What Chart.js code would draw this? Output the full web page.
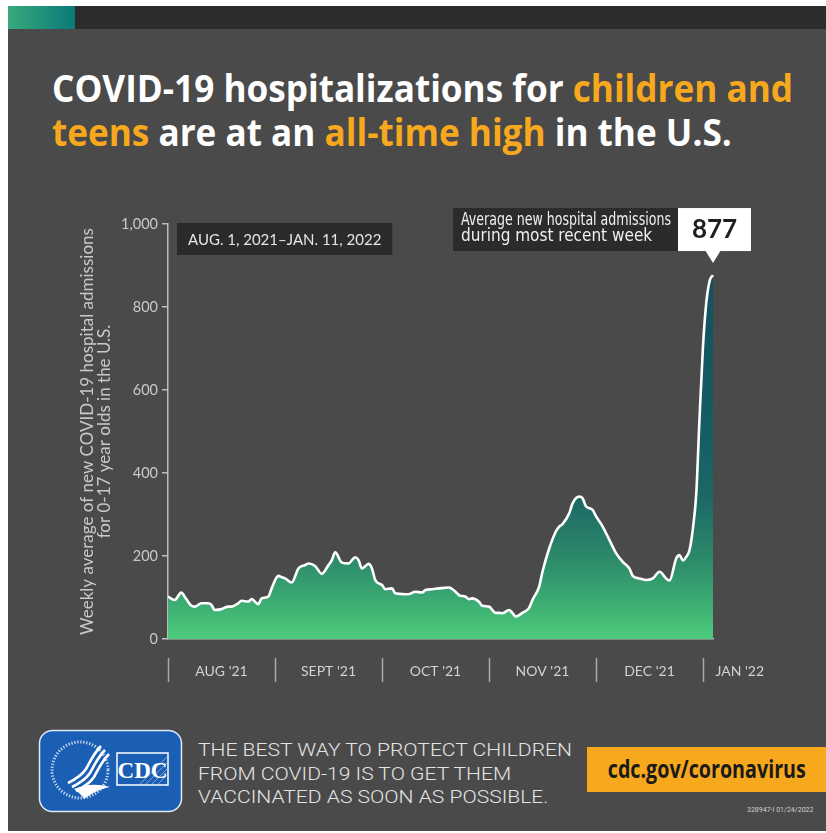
<!DOCTYPE html>
<html>
<head>
<meta charset="utf-8">
<script src="https://cdn.jsdelivr.net/npm/chart.js@4.4.1/dist/chart.umd.min.js"></script>
<style>
  html, body { margin: 0; padding: 0; background: #fff; }
  body { width: 826px; height: 833px; position: relative; overflow: hidden; font-family: Lato, sans-serif; }
  #poster { position: absolute; left: 8px; top: 6px; width: 818px; height: 825px; background: #4a4a4a; }
  #topbar { position: absolute; left: 8px; top: 6px; width: 818px; height: 23px; background: #2c2c2c; }
  #accent { position: absolute; left: 0; top: 0; width: 67px; height: 23px; background: linear-gradient(90deg, #38a97b, #0a7a79); }
  #title { position: absolute; left: 52px; top: 65px; color: #fff; font: 700 38px/44px "Open Sans", sans-serif; white-space: nowrap; }
  #title span.line { display: inline-block; transform-origin: 0 50%; }
  .hl { color: #f7a81d; }
  #chart { position: absolute; left: 60px; top: 190px; }
  #logo { position: absolute; left: 38px; top: 729px; }
  #tagline { position: absolute; left: 198px; top: 738px; color: #e4e4e4; font: 300 19px/23.5px Roboto, sans-serif; white-space: nowrap; }
  #tagline span { display: inline-block; transform-origin: 0 50%; }
  #link { position: absolute; left: 587px; top: 747px; width: 239px; height: 45px; background: #f7a81c; display: flex; align-items: center; justify-content: center; }
  #link span { font: 700 25px/1 "Open Sans", sans-serif; color: #1a1a1a; display: inline-block; white-space: nowrap; margin-top: -3px; }
  #code { position: absolute; left: 747px; top: 807px; font: 7px/1 Roboto, sans-serif; color: #cfcfcf; white-space: nowrap; }
</style>
</head>
<body>
<div id="poster"></div>
<div id="topbar"><div id="accent"></div></div>

<div id="title">
  <span class="line">COVID-19 hospitalizations for <span class="hl">children and</span></span><br>
  <span class="line"><span class="hl">teens</span> are at an <span class="hl">all-time high</span> in the U.S.</span>
</div>

<canvas id="chart" width="760" height="510"></canvas>

<svg id="logo" width="145" height="84" viewBox="0 0 145 84">
  <rect x="1.5" y="1.5" width="142" height="81" rx="13" fill="#1b5fb5" stroke="#dfe8f5" stroke-width="1.5"/>
  <circle cx="42" cy="41" r="28" fill="none" stroke="#ffffff" stroke-width="3" stroke-dasharray="1.3 1.7" opacity="0.75"/>
  <circle cx="42" cy="41" r="23" fill="#1b5fb5"/>
  <path d="M63 17 C56 24 53 31 48 40 C44 46 38 50 30 54" stroke="#fff" stroke-width="2.6" fill="none"/>
  <path d="M67 21 C60 28 57 35 52 44 C48 50 42 54 34 58" stroke="#fff" stroke-width="2.6" fill="none"/>
  <path d="M71 25 C64 32 61 39 56 48 C52 54 46 58 38 62" stroke="#fff" stroke-width="2.6" fill="none"/>
  <path d="M36 60 C46 56 58 54 72 58 C62 60 54 64 46 70 C44 66 40 63 36 60 Z" fill="#fff"/>
  <rect x="79" y="24" width="51" height="32" fill="none" stroke="#fff" stroke-width="1.5"/>
  <path d="M108 55 L129 34 M114 55 L129 40 M120 55 L129 46 M102 55 L129 28" stroke="#fff" stroke-width="0.7" opacity="0.6"/>
  <text x="104.5" y="49" text-anchor="middle" font-family="'Liberation Serif', 'DejaVu Serif', serif" font-weight="700" font-size="23" fill="#fff">CDC</text>
</svg>

<div id="tagline">
  <span>THE BEST WAY TO PROTECT CHILDREN</span><br>
  <span>FROM COVID-19 IS TO GET THEM</span><br>
  <span>VACCINATED AS SOON AS POSSIBLE.</span>
</div>

<div id="link"><span>cdc.gov/coronavirus</span></div>
<div id="code">328947-I 01/24/2022</div>

<script>
// days since Aug 1, 2021 (Jan 11, 2022 = day 163)
const dayOffsets = [0, 2, 4, 5, 7, 8, 10, 12, 13, 14,
  16, 18, 19, 21, 22, 24, 25, 27, 28, 30,
  31, 33, 34, 35, 37, 39, 41, 42, 44, 46,
  48, 49, 50, 52, 54, 56, 57, 58, 60, 61,
  62, 64, 65, 67, 68, 71, 72, 74, 76, 77,
  79, 81, 84, 86, 87, 89, 90, 91, 93, 94,
  96, 98, 99, 100, 102, 103, 104, 106, 108, 109,
  111, 112, 114, 116, 117, 118, 120, 121, 123, 124,
  125, 127, 128, 130, 132, 134, 136, 138, 139, 141,
  143, 145, 147, 149, 150, 152, 153, 154, 155, 156,
  157, 158, 159, 160, 161, 162, 163];

// weekly average of new admissions, 0-17 year olds
const admissions = [102, 94, 112, 102, 80, 78, 86, 86, 82, 70,
  72, 78, 78, 86, 92, 90, 96, 84, 98, 102,
  122, 152, 149, 146, 136, 170, 178, 182, 176, 157,
  178, 190, 209, 184, 182, 197, 190, 170, 181, 170,
  142, 130, 120, 122, 110, 108, 108, 114, 112, 118,
  120, 122, 124, 114, 106, 102, 96, 98, 90, 80,
  78, 63, 63, 62, 70, 63, 54, 63, 75, 94,
  126, 162, 218, 259, 271, 277, 303, 327, 343, 339,
  320, 311, 296, 271, 239, 207, 186, 170, 152, 146,
  142, 146, 162, 146, 141, 194, 202, 189, 198, 215,
  267, 351, 538, 704, 811, 863, 877];

const yTicks = [0, 200, 400, 600, 800, 1000];
const monthLabels = ["AUG '21", "SEPT '21", "OCT '21", "NOV '21", "DEC '21", "JAN '22"];
const monthBreaks = [0, 32, 64, 96, 128, 160];      // separator marks as placed on the poster
const monthLabelDays = [16, 48, 80, 112, 144, 171];
const dateRange = "AUG. 1, 2021\u2013JAN. 11, 2022";
const latestNote = ["Average new hospital admissions", "during most recent week"];
const yTitle = ["Weekly average of new COVID-19 hospital admissions", "for 0-17 year olds in the U.S."];

function squeeze(spans, width) {
  const w = spans[0].getBoundingClientRect().width;
  const k = width / w;
  spans.forEach(s => { s.style.transform = "scaleX(" + k + ")"; });
}

function areaFill(context) {
  const chart = context.chart;
  if (!chart.chartArea) return "#2b8869";
  const y = chart.scales.y;
  const peak = Math.max(...admissions);
  const g = chart.ctx.createLinearGradient(0, y.getPixelForValue(peak), 0, y.getPixelForValue(0));
  g.addColorStop(0, "#11525f");
  g.addColorStop(1 - 500 / peak, "#155c64");
  g.addColorStop(1 - 340 / peak, "#1d6866");
  g.addColorStop(1 - 200 / peak, "#2b8869");
  g.addColorStop(1 - 100 / peak, "#3aa872");
  g.addColorStop(1, "#4dcc7b");
  return g;
}

// narrow text helper: fits text into a width by squeezing horizontally
function fitText(ctx, text, x, y, maxW) {
  const w = ctx.measureText(text).width;
  const k = Math.min(1, maxW / w);
  ctx.save();
  ctx.translate(x, y);
  ctx.scale(k, 1);
  ctx.fillText(text, 0, 0);
  ctx.restore();
}

const extras = {
  id: "extras",
  afterDatasetsDraw(chart) {
    const { ctx, chartArea } = chart;
    const x = chart.scales.x, y = chart.scales.y;
    ctx.save();

    // month separators + labels
    ctx.strokeStyle = "#a9a9a9";
    ctx.lineWidth = 1.5;
    monthBreaks.forEach(d => {
      const px = Math.round(x.getPixelForValue(d)) + 0.5;
      ctx.beginPath();
      ctx.moveTo(px, chartArea.bottom + 19);
      ctx.lineTo(px, chartArea.bottom + 43);
      ctx.stroke();
    });
    ctx.fillStyle = "#d2d2d2";
    ctx.font = "14px Lato, sans-serif";
    ctx.textAlign = "center";
    ctx.textBaseline = "middle";
    monthLabels.forEach((m, i) => {
      ctx.fillText(m, x.getPixelForValue(monthLabelDays[i]), chartArea.bottom + 32);
    });

    // date range box
    ctx.font = "15px Lato, sans-serif";
    const tw = ctx.measureText(dateRange).width;
    const bx = chartArea.left + 9, by = y.getPixelForValue(1000) - 1;
    ctx.fillStyle = "#2b2b2b";
    ctx.fillRect(bx, by, tw + 22, 32);
    ctx.fillStyle = "#e6e6e6";
    ctx.textAlign = "left";
    ctx.fillText(dateRange, bx + 11, by + 17);

    // latest value callout
    const last = dayOffsets.length - 1;
    const px = x.getPixelForValue(dayOffsets[last]);
    const py = y.getPixelForValue(admissions[last]);
    const boxBottom = py - 24, boxTop = boxBottom - 43;
    const wx = px - 35;
    ctx.fillStyle = "#2b2b2b";
    ctx.fillRect(wx - 225, boxTop, 225, 43);
    ctx.fillStyle = "#ffffff";
    ctx.fillRect(wx, boxTop, 73, 43);
    ctx.beginPath();
    ctx.moveTo(px - 8, boxBottom - 1);
    ctx.lineTo(px + 8, boxBottom - 1);
    ctx.lineTo(px, boxBottom + 12);
    ctx.closePath();
    ctx.fill();
    ctx.fillStyle = "#f0f0f0";
    ctx.font = "17px 'Liberation Sans Narrow', 'DejaVu Sans Condensed', 'Roboto Condensed', sans-serif";
    ctx.textAlign = "left";
    fitText(ctx, latestNote[0], wx - 217, boxTop + 13, 210);
    fitText(ctx, latestNote[1], wx - 217, boxTop + 29, 210);
    ctx.fillStyle = "#1e1e1e";
    ctx.font = "700 26px Lato, sans-serif";
    ctx.textAlign = "center";
    ctx.fillText(admissions[last].toLocaleString("en-US"), wx + 36.5, boxTop + 22);

    ctx.restore();
  }
};

function build() {
  squeeze(Array.from(document.querySelectorAll("#title span.line")), 741);
  squeeze(Array.from(document.querySelectorAll("#tagline span")), 374);
  const link = document.querySelector("#link span");
  link.style.transform = "scaleX(" + (198 / link.getBoundingClientRect().width) + ")";

  const points = dayOffsets.map((d, i) => ({ x: d, y: admissions[i] }));

  new Chart(document.getElementById("chart"), {
    type: "line",
    data: {
      datasets: [{
        data: points,
        borderColor: "#ffffff",
        borderWidth: 2.6,
        borderJoinStyle: "round",
        pointRadius: 0,
        fill: "origin",
        backgroundColor: areaFill,
        cubicInterpolationMode: "monotone",
        clip: 4
      }]
    },
    options: {
      responsive: false,
      animation: false,
      layout: { padding: { top: 34, right: 107, bottom: 61, left: 0 } },
      plugins: { legend: { display: false }, tooltip: { enabled: false } },
      scales: {
        x: {
          type: "linear",
          min: 0,
          max: dayOffsets[dayOffsets.length - 1],
          ticks: { display: false },
          grid: { display: false },
          border: { color: "#bdbdbd", width: 1.5 },
          afterFit: s => { s.height = 0; }
        },
        y: {
          min: 0,
          max: 1000,
          afterBuildTicks: s => { s.ticks = yTicks.map(v => ({ value: v })); },
          ticks: {
            color: "#c9c9c9",
            padding: 4,
            font: { family: "Lato", size: 14.5 },
            callback: v => v.toLocaleString("en-US")
          },
          grid: { drawOnChartArea: false, tickLength: 6, color: "#bdbdbd", lineWidth: 1.5 },
          border: { color: "#bdbdbd", width: 1.5 },
          title: {
            display: true,
            text: yTitle,
            color: "#c9c9c9",
            font: { family: "Lato", size: 17, lineHeight: 1.0 },
            padding: { top: 19.5, bottom: 0 }
          },
          afterFit: s => { s.width = 108; }
        }
      }
    },
    plugins: [extras]
  });
}

if (document.fonts && document.fonts.ready) document.fonts.ready.then(build);
else build();
</script>
</body>
</html>
